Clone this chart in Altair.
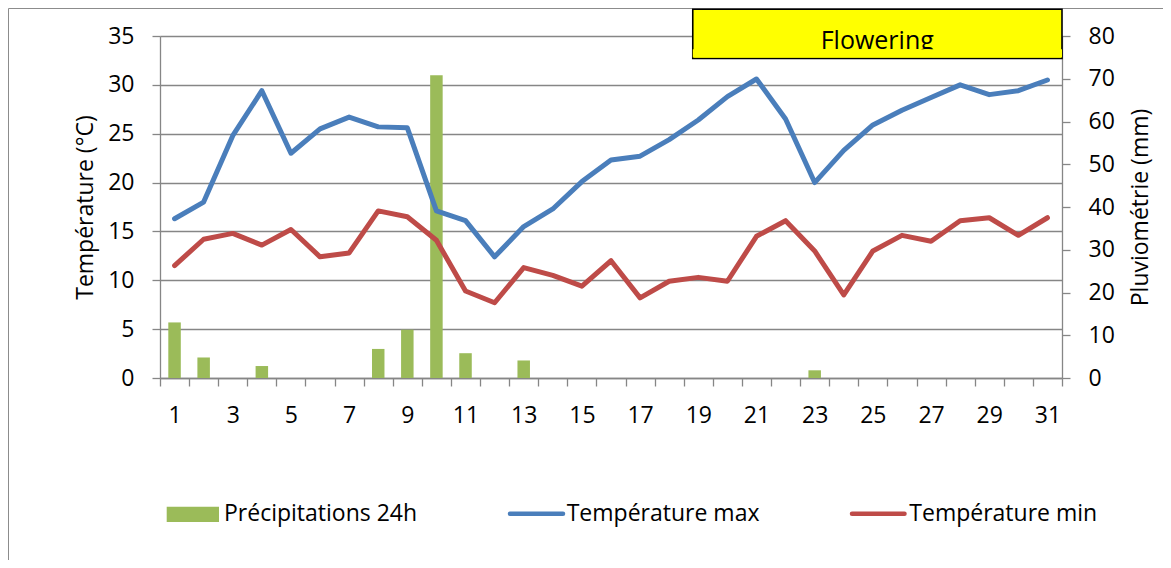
import altair as alt
import pandas as pd

# ---------------- data ----------------
days = list(range(1, 32))
tmax = [16.3, 18.0, 24.8, 29.4, 23.0, 25.5, 26.7, 25.7, 25.6, 17.1, 16.1, 12.4, 15.5, 17.3, 20.1, 22.3,
        22.7, 24.4, 26.4, 28.8, 30.6, 26.5, 20.0, 23.3, 25.9, 27.4, 28.7, 30.0, 29.0, 29.4, 30.5]
tmin = [11.5, 14.2, 14.8, 13.6, 15.2, 12.4, 12.8, 17.1, 16.5, 14.1, 8.9, 7.7, 11.3, 10.5, 9.4, 12.0,
        8.2, 9.9, 10.3, 9.9, 14.5, 16.1, 13.0, 8.5, 13.0, 14.6, 14.0, 16.1, 16.4, 14.6, 16.4]
rain = [13.0, 4.8, 0, 2.8, 0, 0, 0, 6.8, 11.3, 70.8, 5.8, 0, 4.1, 0, 0, 0,
        0, 0, 0, 0, 0, 0, 1.8, 0, 0, 0, 0, 0, 0, 0, 0]
series_names = ["Précipitations 24h", "Température max", "Température min"]
temp_ticks = [0, 5, 10, 15, 20, 25, 30, 35]
rain_ticks = [0, 10, 20, 30, 40, 50, 60, 70, 80]
flowering_label = "Flowering"
# annotation box (in day / °C units)
flowering_x = [18.81, 31.5]
flowering_y = [37.73, 32.69]
flowering_text_at = [25.15, 33.71]
flowering_cover_y = [33.64, 32.8]

# ---------------- styling ----------------
FONT = "Open Sans"
BLUE = "#4A7EBB"
RED = "#BE4B48"
GREEN = "#9BBB59"
GRAY = "#868686"
FS = 23

df = pd.DataFrame({"day": days, "tmax": tmax, "tmin": tmin, "rain": rain})
long = df.melt(id_vars="day", value_vars=["tmax", "tmin"], var_name="series", value_name="temp")

x_scale = alt.Scale(domain=[0.5, 31.5], nice=False, zero=False, padding=0)
x_axis = alt.Axis(
    values=[i + 0.5 for i in range(0, 32)],
    labelExpr="(datum.value + 0.5) % 2 == 1 ? format(datum.value + 0.5, 'd') : ''",
    labelOffset=902 / 31 / 2,
    labelFlush=False, labelOverlap=False, labelBound=False,
    tickSize=8, labelPadding=18, grid=False, title=None,
)
X = alt.X("day:Q", scale=x_scale, axis=x_axis)

temp_scale = alt.Scale(domain=[0, 35], nice=False, zero=True, padding=0)
temp_axis = alt.Axis(
    orient="left", values=temp_ticks, grid=True, tickSize=8, labelPadding=18,
    title="Température (°C)", titleAngle=270, titleX=-68, titleY=171,
    titleAlign="center", titleBaseline="alphabetic",
)
rain_axis = alt.Axis(
    orient="right", values=rain_ticks, grid=False, tickSize=8, labelPadding=18,
    title="Pluviométrie (mm)", titleAngle=270, titleX=85.5, titleY=171,
    titleAlign="center", titleBaseline="alphabetic",
)

bars = alt.Chart(df).mark_bar(size=12.5, color=GREEN).encode(
    x=X,
    y=alt.Y("rain:Q", scale=alt.Scale(domain=[0, 80], nice=False, padding=0), axis=rain_axis),
)

lines = alt.Chart(long).mark_line(strokeWidth=5, strokeJoin="round", strokeCap="round").encode(
    x=X,
    y=alt.Y("temp:Q", scale=temp_scale, axis=temp_axis),
    color=alt.Color("series:N", scale=alt.Scale(domain=["tmax", "tmin"], range=[BLUE, RED]), legend=None),
)

box_df = pd.DataFrame({"x0": [flowering_x[0]], "x1": [flowering_x[1]],
                       "y0": [flowering_y[0]], "y1": [flowering_y[1]], "label": [flowering_label],
                       "tx": [flowering_text_at[0]], "ty": [flowering_text_at[1]],
                       "cy0": [flowering_cover_y[0]], "cy1": [flowering_cover_y[1]]})

box = alt.Chart(box_df).mark_rect(fill="#FFFF00", stroke="#000000", strokeWidth=1.6, clip=False).encode(
    x=alt.X("x0:Q", scale=x_scale, axis=x_axis), x2="x1:Q",
    y=alt.Y("y0:Q", scale=temp_scale, axis=temp_axis), y2="y1:Q",
)
box_text = alt.Chart(box_df).mark_text(font=FONT, fontSize=25, color="#000000", align="center",
                                       baseline="alphabetic", clip=False).encode(
    x=alt.X("tx:Q", scale=x_scale, axis=x_axis),
    y=alt.Y("ty:Q", scale=temp_scale, axis=temp_axis),
    text="label:N",
)
box_cover = alt.Chart(box_df).mark_rect(fill="#FFFF00", clip=False).encode(
    x=alt.X("x0:Q", scale=x_scale, axis=x_axis), x2="x1:Q",
    y=alt.Y("cy0:Q", scale=temp_scale, axis=temp_axis), y2="cy1:Q",
)

temp_layer = alt.layer(lines, box, box_text, box_cover)

# ---------------- manual legend & frame ----------------
def one(label):
    return pd.DataFrame({"label": [label]})

frame_left = alt.Chart(one("")).mark_rule(color="#8c8c8c", strokeWidth=1).encode(
    x=alt.value(-151.5), y=alt.value(-27.5), y2=alt.value(800))
frame_top = alt.Chart(one("")).mark_rule(color="#8c8c8c", strokeWidth=1).encode(
    x=alt.value(-151.5), x2=alt.value(1300), y=alt.value(-27.5))

leg_bar = alt.Chart(one(series_names[0])).mark_rect(color=GREEN).encode(
    x=alt.value(6.7), x2=alt.value(59), y=alt.value(470.7), y2=alt.value(486))
leg_t1 = alt.Chart(one(series_names[0])).mark_text(font=FONT, fontSize=FS, align="left",
                                                   baseline="alphabetic", color="#000").encode(
    x=alt.value(64), y=alt.value(484.7), text="label:N")
leg_l2 = alt.Chart(one(series_names[1])).mark_rule(color=BLUE, strokeWidth=4.5, strokeCap="round").encode(
    x=alt.value(350), x2=alt.value(403), y=alt.value(477.7))
leg_t2 = alt.Chart(one(series_names[1])).mark_text(font=FONT, fontSize=FS, align="left",
                                                   baseline="alphabetic", color="#000").encode(
    x=alt.value(406.7), y=alt.value(484.7), text="label:N")
leg_l3 = alt.Chart(one(series_names[2])).mark_rule(color=RED, strokeWidth=4.5, strokeCap="round").encode(
    x=alt.value(692), x2=alt.value(744.5), y=alt.value(477.7))
leg_t3 = alt.Chart(one(series_names[2])).mark_text(font=FONT, fontSize=FS, align="left",
                                                   baseline="alphabetic", color="#000").encode(
    x=alt.value(749.3), y=alt.value(484.7), text="label:N")

main = alt.layer(bars, temp_layer).resolve_scale(y="independent")

chart = alt.layer(frame_left, frame_top, main, leg_bar, leg_t1, leg_l2, leg_t2, leg_l3, leg_t3).properties(
    width=902, height=342,
    autosize=alt.AutoSizeParams(type="none"),
    padding={"left": 152, "top": 28, "right": 101, "bottom": 182},
    background="white",
).configure_view(stroke=None).configure_axis(
    labelFont=FONT, titleFont=FONT, labelFontSize=FS, titleFontSize=FS,
    labelColor="#000", titleColor="#000", titleFontWeight="normal",
    domainColor=GRAY, tickColor=GRAY, gridColor=GRAY,
    domainWidth=1.3, tickWidth=1.3, gridWidth=1.3,
)

chart.save("out.html", embed_options={"renderer": "svg", "actions": False})
